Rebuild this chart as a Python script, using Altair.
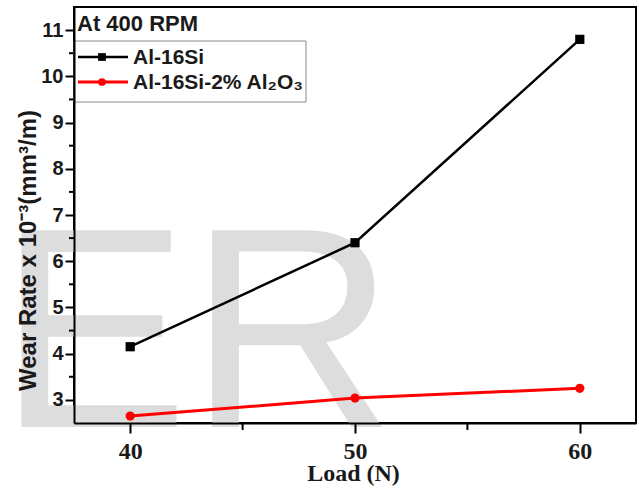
import altair as alt
import pandas as pd

# ---- data ----
loads = [40, 50, 60]
series_names = ["Al-16Si", "Al-16Si-2% Al₂O₃"]
wear_al16si = [4.15, 6.40, 10.80]
wear_al16si_al2o3 = [2.65, 3.04, 3.25]
series_colors = ["#000000", "#ff0000"]
series_shapes = ["square", "circle"]
series_widths = [2.5, 3.0]

x_ticks = [40, 50, 60]
x_minor = [45, 55]
y_ticks = [3, 4, 5, 6, 7, 8, 9, 10, 11]
y_minor = [3.5, 4.5, 5.5, 6.5, 7.5, 8.5, 9.5, 10.5]

annotation = "At 400 RPM"
watermark = "ER"
y_title = "Wear Rate x 10⁻³(mm³/m)"
x_title = "Load (N)"

# ---- tables ----
rows = []
for name, vals in zip(series_names, [wear_al16si, wear_al16si_al2o3]):
    for l, v in zip(loads, vals):
        rows.append({"series": name, "load": l, "wear": v})
df = pd.DataFrame(rows)

xscale = alt.Scale(domain=[37.5, 62.5], nice=False, zero=False)
yscale = alt.Scale(domain=[2.5, 11.5], nice=False, zero=False)

color = alt.Color("series:N", scale=alt.Scale(domain=series_names, range=series_colors), legend=None)
shape = alt.Shape("series:N", scale=alt.Scale(domain=series_names, range=series_shapes), legend=None)
swidth = alt.StrokeWidth("series:N", scale=alt.Scale(domain=series_names, range=series_widths), legend=None)

x_axis = alt.Axis(values=x_ticks, title=x_title, tickSize=10, labelPadding=6, zindex=2,
                  labelFont="Liberation Serif", labelFontSize=24, labelFontWeight="bold",
                  titleFont="Liberation Serif", titleFontSize=24, titleFontWeight="bold",
                  titleX=279, titleY=57, titleBaseline="alphabetic", titleAlign="center")
y_axis = alt.Axis(values=y_ticks, title=y_title, tickSize=9, labelPadding=2, zindex=2,
                  labelFont="Liberation Sans", labelFontSize=20, labelFontWeight="bold",
                  titleFont="Liberation Sans", titleFontSize=24, titleFontWeight="bold",
                  titleAngle=270, titleX=-39, titleY=243, titleAlign="center",
                  titleBaseline="alphabetic")

X = alt.X("load:Q", scale=xscale, axis=x_axis)
Y = alt.Y("wear:Q", scale=yscale, axis=y_axis)

wm = alt.Chart(pd.DataFrame({"t": [watermark]})).mark_text(
    font="Liberation Sans", fontSize=286, color="#dddddd", align="left", baseline="alphabetic"
).encode(x=alt.value(-76), y=alt.value(420), text="t:N")

lines = alt.Chart(df).mark_line().encode(x=X, y=Y, color=color, strokeWidth=swidth, detail="series:N")
points = alt.Chart(df).mark_point(filled=True, opacity=1, size=85).encode(
    x=X, y=Y, color=color, shape=shape)

xminor = alt.Chart(pd.DataFrame({"load": x_minor})).mark_rule(color="black", strokeWidth=2).encode(
    x=X, y=alt.value(416), y2=alt.value(423))
yminor = alt.Chart(pd.DataFrame({"wear": y_minor})).mark_rule(color="black", strokeWidth=2).encode(
    y=Y, x=alt.value(-5), x2=alt.value(0))

# ---- manual legend ----
legend_layers = []
box = alt.Chart(pd.DataFrame({"a": [0]})).mark_rect(fill="white", stroke="#8a8a8a", strokeWidth=1).encode(
    x=alt.value(0), x2=alt.value(232), y=alt.value(34), y2=alt.value(95))
legend_layers.append(box)
for i, (name, col, shp, w) in enumerate(zip(series_names, series_colors, series_shapes, series_widths)):
    ypos = 50 + 25 * i
    ld = pd.DataFrame({"series": [name]})
    legend_layers.append(alt.Chart(ld).mark_rule(color=col, strokeWidth=w).encode(
        x=alt.value(4), x2=alt.value(54), y=alt.value(ypos)))
    legend_layers.append(alt.Chart(ld).mark_point(filled=True, opacity=1, color=col, shape=shp, size=60).encode(
        x=alt.value(28), y=alt.value(ypos)))
    legend_layers.append(alt.Chart(ld).mark_text(
        font="Liberation Sans", fontSize=21, fontWeight="bold", color="#1a1a1a", align="left", baseline="middle"
    ).encode(x=alt.value(59), y=alt.value(ypos + 1), text="series:N"))

ann = alt.Chart(pd.DataFrame({"t": [annotation]})).mark_text(
    font="Liberation Sans", fontSize=22, fontWeight="bold", color="#1a1a1a", align="left", baseline="middle"
).encode(x=alt.value(3), y=alt.value(17), text="t:N")

chart = alt.layer(wm, lines, points, xminor, yminor, *legend_layers, ann).properties(
    width=562, height=416,
    padding={"left": 74, "top": 7, "right": 3, "bottom": 69},
    autosize=alt.AutoSizeParams(type="none"),
).configure_view(stroke="black", strokeWidth=2).configure_axis(
    domainColor="black", domainWidth=2, tickColor="black", tickWidth=2, grid=False,
    labelColor="#1a1a1a", titleColor="#1a1a1a"
)

chart.save("out.html", embed_options={"renderer": "svg", "actions": False})
